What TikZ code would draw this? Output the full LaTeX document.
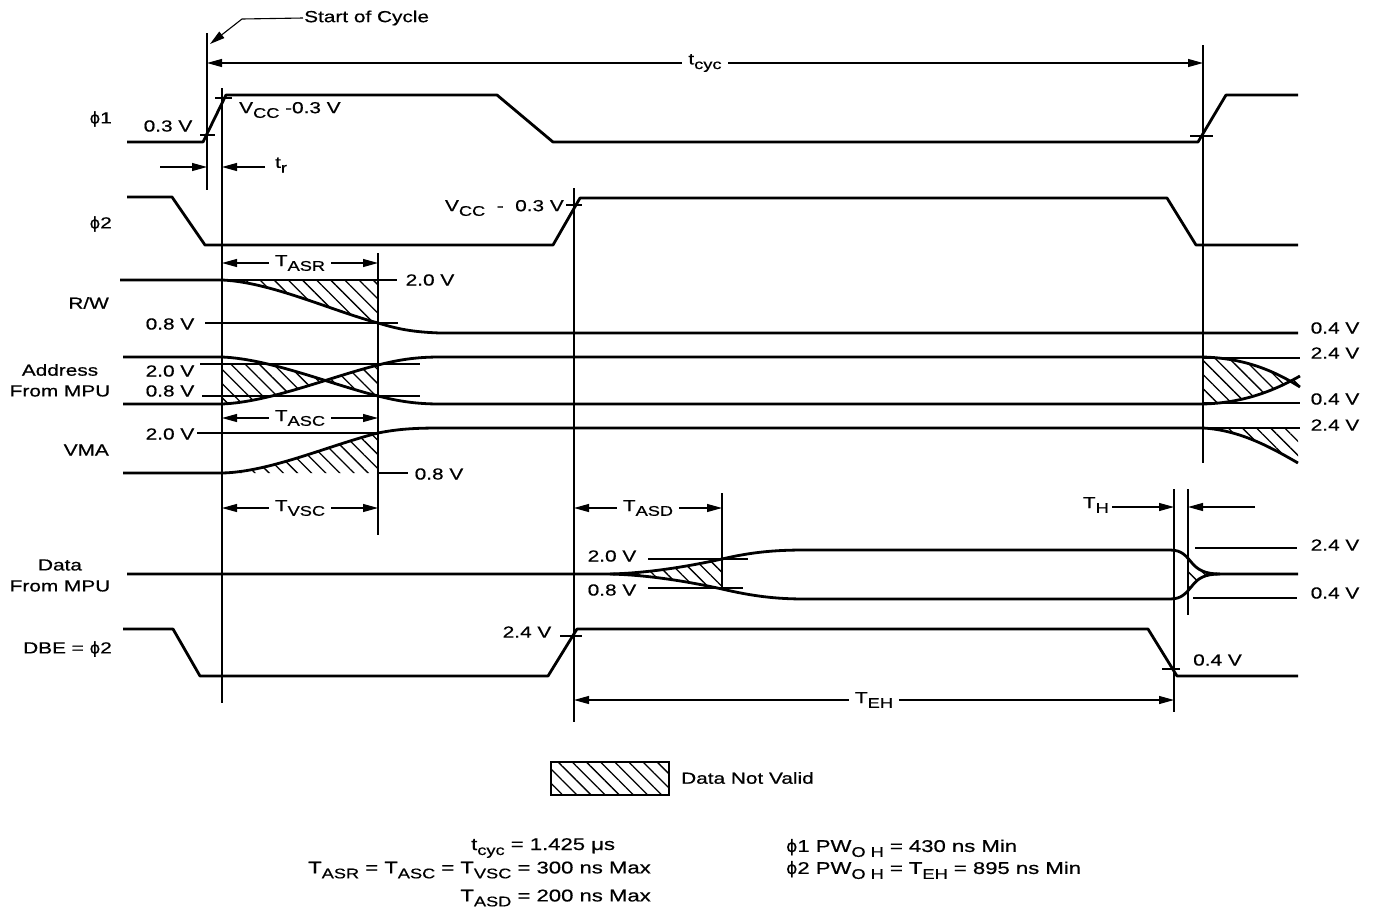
\documentclass[tikz,border=0pt]{standalone}
\usepackage{fontspec}
\setmainfont{Liberation Sans}[FakeStretch=1.3,FakeBold=0.6]
\newfontfamily\symf{DejaVu Sans}[FakeBold=0.4]
\usetikzlibrary{arrows.meta,patterns.meta}
\newcommand{\lo}[1]{\raisebox{-0.55ex}{\fontsize{14}{14}\selectfont #1}}
\newcommand{\ph}{{\symf ϕ}}
\tikzset{
  sig/.style={line width=2.8pt, line join=round},
  refl/.style={line width=1.1pt},
  dimarr/.style={line width=1.1pt, {Triangle[length=15pt,width=8pt]}-{Triangle[length=15pt,width=8pt]}},
  onearr/.style={line width=1.1pt, -{Triangle[length=15pt,width=8pt]}},
  lbl/.style={font=\fontsize{16}{18}\selectfont, inner sep=1pt},
  dlbl/.style={lbl, fill=white, inner xsep=6pt},
  hatch/.style={pattern={Lines[angle=-45,distance=10pt,line width=1.3pt]}},
  foot/.style={font=\fontsize{17}{19}\selectfont, inner sep=1pt},
}
\begin{document}
\begin{tikzpicture}[x=1pt,y=-1pt]
\path[use as bounding box, fill=white] (0,0) rectangle (1374,911);

% ---------- hatched (data not valid) regions ----------
\fill[hatch] (222,280) .. controls (270,282) and (330,310) .. (378,323) -- (378,280) -- cycle;
\begin{scope}
  \clip (222,364) rectangle (378,412);
  \fill[hatch] (222,357) .. controls (270,359) and (330,384) .. (378,396) -- (378,365)
     .. controls (330,377) and (270,402) .. (222,404) -- cycle;
\end{scope}
\fill[hatch] (1203,357) .. controls (1240,358) and (1270,368) .. (1300,387) -- (1300,376)
     .. controls (1270,393) and (1240,403) .. (1203,404) -- cycle;
\fill[hatch] (222,473) .. controls (270,472) and (330,445) .. (378,433) -- (378,473) -- cycle;
\fill[hatch] (1203,428) .. controls (1240,430) and (1272,448) .. (1298,463) -- (1298,428) -- cycle;
\fill[hatch] (610,574) .. controls (650,573) and (690,566) .. (722,559) -- (722,589)
     .. controls (690,582) and (650,575) .. (610,574) -- cycle;
\begin{scope}
  \clip (1188,540) rectangle (1230,610);
  \fill[hatch] (1170,550) .. controls (1182,550) and (1186,556) .. (1192,563)
     .. controls (1198,570) and (1205,574) .. (1220,574)
     .. controls (1205,574) and (1198,578) .. (1192,586)
     .. controls (1186,593) and (1182,599) .. (1170,599) -- cycle;
\end{scope}

% ---------- signals ----------
\draw[sig] (127,142) -- (203,142) -- (226,95) -- (497,95) -- (553,142) -- (1198,142) -- (1226,95) -- (1298,95);
\draw[sig] (127,197) -- (172,197) -- (205,245) -- (553,245) -- (580,198) -- (1167,198) -- (1196,245) -- (1298,245);
\draw[sig] (120,280) -- (222,280) .. controls (270,282) and (330,310) .. (378,323)
   .. controls (398,329) and (412,332) .. (440,333) -- (1298,333);
\draw[sig] (123,357) -- (222,357) .. controls (270,359) and (330,384) .. (378,396)
   .. controls (398,401) and (415,404) .. (440,404) -- (1203,404)
   .. controls (1240,403) and (1270,393) .. (1300,376);
\draw[sig] (123,404) -- (222,404) .. controls (270,402) and (330,377) .. (378,365)
   .. controls (398,360) and (415,357) .. (440,357) -- (1203,357)
   .. controls (1240,358) and (1270,368) .. (1300,387);
\draw[sig] (123,473) -- (222,473) .. controls (270,472) and (330,445) .. (378,433)
   .. controls (398,429) and (415,428) .. (440,428) -- (1203,428)
   .. controls (1240,430) and (1272,448) .. (1298,463);
\draw[sig] (127,574) -- (610,574) .. controls (650,573) and (690,566) .. (722,559)
   .. controls (752,552) and (775,550) .. (805,550) -- (1170,550)
   .. controls (1182,550) and (1186,556) .. (1192,563)
   .. controls (1198,570) and (1205,574) .. (1220,574) -- (1298,574);
\draw[sig] (610,574) .. controls (650,575) and (690,582) .. (722,589)
   .. controls (752,596) and (775,599) .. (805,599) -- (1170,599)
   .. controls (1182,599) and (1186,593) .. (1192,586)
   .. controls (1198,578) and (1205,574) .. (1220,574);
\draw[sig] (123,629) -- (173,629) -- (200,676) -- (548,676) -- (577,629) -- (1148,629) -- (1177,676) -- (1298,676);

% ---------- vertical reference lines ----------
\coordinate (v1t) at (207,33);   \coordinate (v1b) at (207,190);
\coordinate (v2t) at (222,88);   \coordinate (v2b) at (222,703);
\coordinate (v3t) at (378,253);  \coordinate (v3b) at (378,535);
\coordinate (v4t) at (574,188);  \coordinate (v4b) at (574,722);
\coordinate (v5t) at (722,493);  \coordinate (v5b) at (722,590);
\coordinate (v6t) at (1174,489); \coordinate (v6b) at (1174,712);
\coordinate (v7t) at (1188,489); \coordinate (v7b) at (1188,615);
\coordinate (v8t) at (1203,45);  \coordinate (v8b) at (1203,463);
\foreach \a in {1,...,8} {\draw[refl] (v\a t) -- (v\a b);}

% ---------- horizontal level lines and ticks ----------
\draw[refl] (222,280) -- (397,280);
\draw[refl] (205,323) -- (398,323);
\draw[refl] (200,364) -- (420,364);
\draw[refl] (202,396) -- (420,396);
\draw[refl] (197,433) -- (378,433);
\draw[refl] (378,473) -- (408,473);
\draw[refl] (1203,358) -- (1300,358);
\draw[refl] (1203,403) -- (1300,403);
\draw[refl] (1203,428) -- (1300,428);
\draw[refl] (648,559) -- (748,559);
\draw[refl] (648,588) -- (743,588);
\draw[refl] (1195,548) -- (1297,548);
\draw[refl] (1193,598) -- (1297,598);
\draw[refl] (200,135) -- (215,135);
\draw[refl] (215,98) -- (232,98);
\draw[refl] (1190,136) -- (1213,136);
\draw[refl] (566,205) -- (582,205);
\draw[refl] (560,636) -- (582,636);
\draw[refl] (1162,669) -- (1180,669);

% ---------- dimension arrows ----------
\draw[dimarr] (v1t |- 0,63) -- (v8t |- 0,63) node[midway,dlbl] (tcyc) {t\lo{cyc}};
\draw[dimarr] (222,263) -- (378,263) node[midway,dlbl] (tasr) {T\lo{ASR}};
\draw[dimarr] (222,418) -- (378,418) node[midway,dlbl] (tasc) {T\lo{ASC}};
\draw[dimarr] (222,508) -- (378,508) node[midway,dlbl] (tvsc) {T\lo{VSC}};
\draw[dimarr] (574,508) -- (722,508) node[midway,dlbl] (tasd) {T\lo{ASD}};
\draw[dimarr] (574,700) -- (1174,700) node[midway,dlbl] (teh) {T\lo{EH}};
\coordinate (tra) at (160,167); \coordinate (trb) at (265,167);
\draw[onearr] (tra) -- (207,167);
\draw[onearr] (trb) -- (222,167);
\node[lbl, anchor=west] (tr) at (274,165) {t\lo{r}};
\node[lbl, anchor=east] (th) at (1110,505) {T\lo{H}};
\draw[onearr] (th.east) ++(2,2) -- (1174,507);
\coordinate (thr) at (1255,507);
\draw[onearr] (thr) -- (1188,507);

% ---------- start of cycle ----------
\node[lbl, anchor=west] (soc) at (303,18) {Start of Cycle};
\draw[onearr] (soc.west) -- (242,19) -- (210,44);

% ---------- level labels ----------
\node[lbl] (l03) at (168,126) {0.3 V};
\node[lbl, anchor=west] (lvcc1) at (238,110) {V\lo{CC} -0.3 V};
\node[lbl, anchor=east] (lvcc2) at (565,208) {V\lo{CC}\ \ -\ \ 0.3 V};
\node[lbl] (rw20) at (430,280) {2.0 V};
\node[lbl] (rw08) at (170,324) {0.8 V};
\node[lbl] (ad20) at (170,371) {2.0 V};
\node[lbl] (ad08) at (170,391) {0.8 V};
\node[lbl] (vm20) at (170,434) {2.0 V};
\node[lbl] (vm08) at (439,474) {0.8 V};
\node[lbl] (r04a) at (1335,328) {0.4 V};
\node[lbl] (r24a) at (1335,353) {2.4 V};
\node[lbl] (r04b) at (1335,399) {0.4 V};
\node[lbl] (r24b) at (1335,425) {2.4 V};
\node[lbl] (d20) at (612,556) {2.0 V};
\node[lbl] (d08) at (612,590) {0.8 V};
\node[lbl] (d24) at (1335,545) {2.4 V};
\node[lbl] (d04) at (1335,593) {0.4 V};
\node[lbl] (db24) at (527,632) {2.4 V};
\node[lbl, anchor=west] (db04) at (1192,660) {0.4 V};

% ---------- signal names ----------
\node[lbl, anchor=east] (nphi1) at (113,119) {\ph1};
\node[lbl, anchor=east] (nphi2) at (113,224) {\ph2};
\node[lbl, anchor=east] (nrw) at (110,303) {R/W};
\node[lbl] (naddr) at (60,370) {Address};
\node[lbl] (naddr2) at (60,391) {From MPU};
\node[lbl, anchor=east] (nvma) at (110,450) {VMA};
\node[lbl] (ndata) at (60,565) {Data};
\node[lbl] (ndata2) at (60,586) {From MPU};
\node[lbl, anchor=east] (ndbe) at (113,649) {DBE = \ph2};

% ---------- legend ----------
\draw[line width=1.4pt, hatch] (551,762) rectangle (669,795);
\node[lbl, anchor=west] (leg) at (680,778) {Data Not Valid};

% ---------- footnotes ----------
\node[foot, anchor=west] (f1) at (470,848) {t\lo{cyc} = 1.425 μs};
\node[foot, anchor=east] (f2) at (652,870) {T\lo{ASR} = T\lo{ASC} = T\lo{VSC} = 300 ns Max};
\node[foot, anchor=east] (f3) at (652,898) {T\lo{ASD} = 200 ns Max};
\node[foot, anchor=west] (f4) at (785,848) {\ph1 PW\lo{O H} = 430 ns Min};
\node[foot, anchor=west] (f5) at (785,870) {\ph2 PW\lo{O H} = T\lo{EH} = 895 ns Min};
\end{tikzpicture}
\end{document}
